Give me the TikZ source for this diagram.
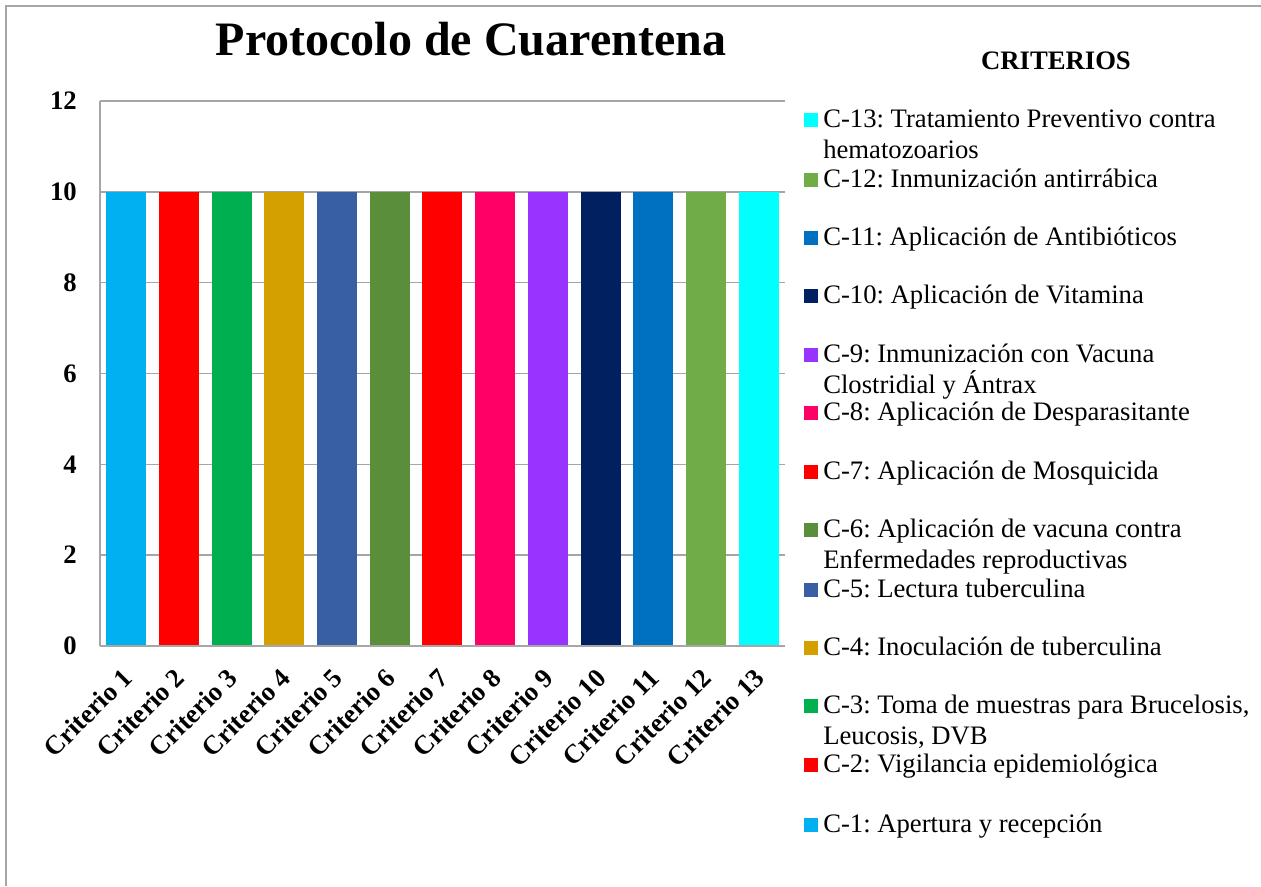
\documentclass[tikz,border=0pt]{standalone}
\usepackage{fontspec}
\setmainfont{Liberation Serif}
\usetikzlibrary{positioning}
\definecolor{pcskyblue}{HTML}{00B0F0}
\definecolor{pcred}{HTML}{FF0000}
\definecolor{pcgreen}{HTML}{00B050}
\definecolor{pcgold}{HTML}{D4A000}
\definecolor{pcblue}{HTML}{385EA3}
\definecolor{pcolive}{HTML}{5B8E3A}
\definecolor{pcpink}{HTML}{FF0066}
\definecolor{pcpurple}{HTML}{9933FF}
\definecolor{pcnavy}{HTML}{002060}
\definecolor{pcmidblue}{HTML}{0070C0}
\definecolor{pclightgreen}{HTML}{70AD47}
\definecolor{pccyan}{HTML}{00FFFF}
\definecolor{pcgray}{HTML}{A6A6A6}
\frenchspacing

\begin{document}
\begin{tikzpicture}[
  x=0.75pt, y=-0.75pt,
  every node/.style={font=\fontsize{20}{23.25}\selectfont},
  ticklab/.style={font=\fontsize{20}{24}\selectfont\bfseries, anchor=east, inner sep=0pt},
  catlab/.style={font=\fontsize{20}{24}\selectfont\bfseries, rotate=45, anchor=east, inner sep=0pt},
  legsq/.style={rectangle, minimum size=10.5pt, inner sep=0pt},
  legtxt/.style={anchor=base west, align=left, inner sep=0pt},
  gridline/.style={draw=pcgray, line width=1.1pt},
]
\useasboundingbox (0,0) rectangle (1261,886);

% Outer frame (cut by the page)
\draw[gridline] (6,886) -- (6,6) -- (1261,6);

% Title
\node[font=\fontsize{36}{40}\selectfont\bfseries, anchor=base] (title) at (471,55) {Protocolo de Cuarentena};

% Grid and value axis
\foreach \k in {0,2,...,12} {
  \draw[gridline] (100,{646-45.42*\k}) -- (785,{646-45.42*\k});
  \node[ticklab] (tick\k) at (77,{646-45.42*\k}) {\k};
}
\draw[gridline] (100,101) -- (100,646);

% Bars
\foreach \c [count=\i] in {pcskyblue, pcred, pcgreen, pcgold, pcblue, pcolive, pcred,
                           pcpink, pcpurple, pcnavy, pcmidblue, pclightgreen, pccyan} {
  \fill[\c] ({100+52.69*(\i-0.5)-20},192) rectangle ({100+52.69*(\i-0.5)+20},645);
  \node[catlab] (cat\i) at ({100+52.69*(\i-0.5)+1},673) {Criterio \i};
}
\draw[gridline] (100,646) -- (785,646);

% Legend (second number: shift to the last baseline)
\node[font=\fontsize{20}{24}\selectfont\bfseries, anchor=base] (legtitle) at (1056,69) {CRITERIOS};
\foreach \y/\d/\c/\t [count=\n] in {
  127/31/pccyan/{C-13: Tratamiento Preventivo contra\\hematozoarios},
  187/0/pclightgreen/{C-12: Inmunización antirrábica},
  245/0/pcmidblue/{C-11: Aplicación de Antibióticos},
  303/0/pcnavy/{C-10: Aplicación de Vitamina},
  362/31/pcpurple/{C-9: Inmunización con Vacuna\\Clostridial y Ántrax},
  420/0/pcpink/{C-8: Aplicación de Desparasitante},
  479/0/pcred/{C-7: Aplicación de Mosquicida},
  537/31/pcolive/{C-6: Aplicación de vacuna contra\\Enfermedades reproductivas},
  597/0/pcblue/{C-5: Lectura tuberculina},
  655/0/pcgold/{C-4: Inoculación de tuberculina},
  713/31/pcgreen/{C-3: Toma de muestras para Brucelosis,\\Leucosis, DVB},
  772/0/pcred/{C-2: Vigilancia epidemiológica},
  832/0/pcskyblue/{C-1: Apertura y recepción}} {
  \node[legsq, fill=\c] (leg\n) at (811,\y-7) {};
  \node[legtxt] (legtext\n) at (823,\y+\d) {\t};
}
\end{tikzpicture}
\end{document}
